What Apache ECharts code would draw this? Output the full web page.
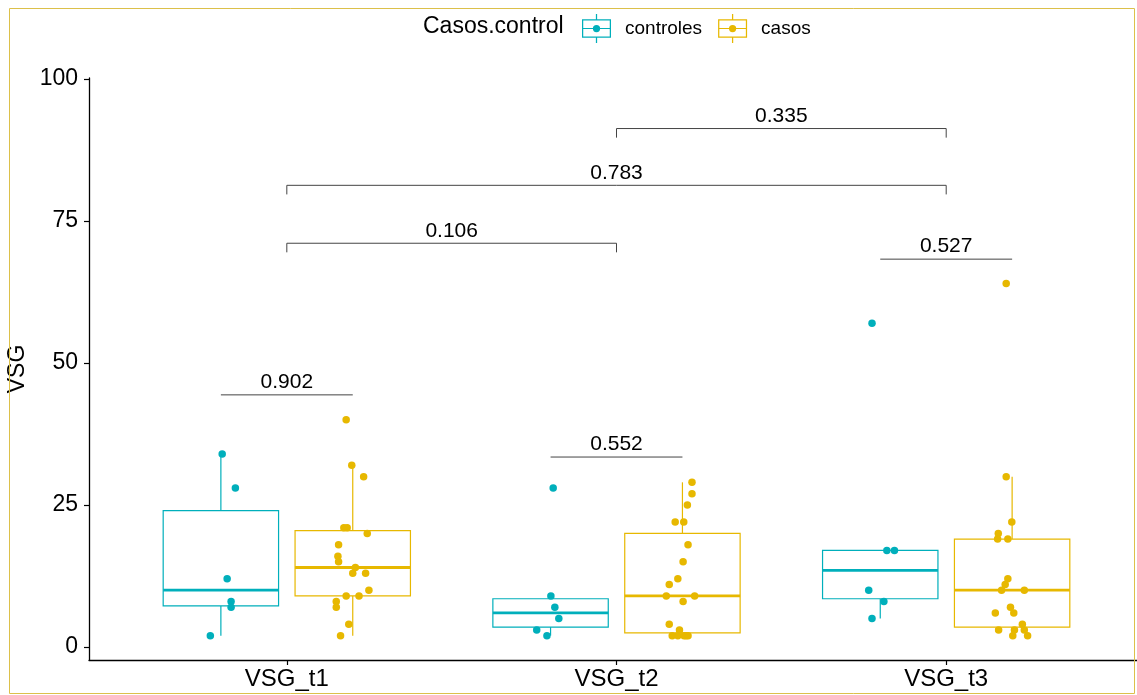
<!DOCTYPE html>
<html><head><meta charset="utf-8">
<script src="https://cdn.jsdelivr.net/npm/echarts@6/dist/echarts.min.js"></script>
<style>html,body{margin:0;padding:0;background:#fff}#c{width:1137px;height:695px}</style>
</head><body><div id="c"></div>
<script>
// ---- data ----
const categories = ['VSG_t1', 'VSG_t2', 'VSG_t3'];
const groups = ['controles', 'casos'];
const groupColors = ['#00AFBB', '#E7B800'];
const yTicks = [0, 25, 50, 75, 100];
const legendTitle = 'Casos.control';
const yName = 'VSG';

const controlesT1 = [34, 28, 12, 8, 7, 2];
const controlesT2 = [28, 9, 7, 5, 3, 2];
const controlesT3 = [57, 17, 17, 10, 8, 5];
const casosT1 = [40, 32, 30, 21, 21, 20, 18, 16, 15, 14, 13, 13, 10, 9, 9, 8, 7, 4, 2];
const casosT2 = [29, 27, 25, 22, 22, 18, 15, 12, 11, 9, 9, 8, 4, 3, 2, 2, 2, 2, 2];
const casosT3 = [64, 30, 22, 20, 19, 19, 12, 11, 10, 10, 7, 6, 6, 4, 3, 3, 3, 2, 2];

// horizontal jitter of each point (category units)
const controlesT1Jitter = [0.004, 0.044, 0.019, 0.031, 0.031, -0.032];
const controlesT2Jitter = [0.008, 0.001, 0.013, 0.025, -0.042, -0.011];
const controlesT3Jitter = [-0.025, 0.020, 0.043, -0.035, 0.011, -0.025];
const casosT1Jitter = [-0.020, -0.003, 0.033, -0.027, -0.017, 0.044, -0.043, -0.045, -0.043, 0.008, 0.000, 0.039, 0.049, -0.020, 0.019, -0.050, -0.050, -0.012, -0.037];
const casosT2Jitter = [0.029, 0.029, 0.015, -0.022, 0.004, 0.017, 0.002, -0.014, -0.040, -0.049, 0.037, 0.002, -0.040, -0.009, -0.031, -0.014, 0.011, 0.017, 0.005];
const casosT3Jitter = [-0.018, -0.018, -0.001, -0.042, -0.044, -0.013, -0.013, -0.021, -0.032, 0.037, -0.005, -0.051, 0.005, 0.031, -0.041, 0.007, 0.037, 0.002, 0.047];

// p-value brackets
const bracketFrom = [0.8, 1.8, 2.8, 1, 1, 2];
const bracketTo = [1.2, 2.2, 3.2, 2, 3, 3];
const bracketY = [44.4, 33.45, 68.3, 71.1, 81.3, 91.3];
const bracketLeg = [0, 0, 0, 1.6, 1.6, 1.6];
const bracketLabels = ['0.902', '0.552', '0.527', '0.106', '0.783', '0.335'];

const dodge = 0.2;      // offset of each group from category centre
const boxWidth = 0.35;

// ---- helpers ----
function quant(s, p) {
  const h = (s.length - 1) * p, lo = Math.floor(h);
  const hi = Math.min(lo + 1, s.length - 1);
  return s[lo] + (h - lo) * (s[hi] - s[lo]);
}
function boxStats(vals) {
  const s = vals.slice().sort((a, b) => a - b);
  const q1 = quant(s, 0.25), med = quant(s, 0.5), q3 = quant(s, 0.75);
  const iqr = q3 - q1;
  const lo = s.find(v => v >= q1 - 1.5 * iqr);
  const hi = s.slice().reverse().find(v => v <= q3 + 1.5 * iqr);
  return [lo, q1, med, q3, hi];
}

const groupData = [
  [[controlesT1, controlesT1Jitter], [controlesT2, controlesT2Jitter], [controlesT3, controlesT3Jitter]],
  [[casosT1, casosT1Jitter], [casosT2, casosT2Jitter], [casosT3, casosT3Jitter]]
];

const FONT = '"Liberation Sans", Arial, sans-serif';
const series = [];

groups.forEach((g, gi) => {
  const off = gi === 0 ? -dodge : dodge;
  const boxData = groupData[gi].map((d, ci) => [ci + 1 + off].concat(boxStats(d[0])));
  series.push({
    name: g,
    type: 'custom',
    itemStyle: { color: groupColors[gi] },
    encode: { x: 0, y: [1, 2, 3, 4, 5] },
    data: boxData,
    z: 2,
    renderItem: function (params, api) {
      const x = api.value(0);
      const pMin = api.coord([x, api.value(1)]);
      const pQ1 = api.coord([x, api.value(2)]);
      const pMed = api.coord([x, api.value(3)]);
      const pQ3 = api.coord([x, api.value(4)]);
      const pMax = api.coord([x, api.value(5)]);
      const half = api.size([boxWidth, 0])[0] / 2;
      const col = groupColors[gi];
      const ls = { stroke: col, lineWidth: 1.2, fill: null };
      return {
        type: 'group',
        children: [
          { type: 'line', shape: { x1: pMed[0], y1: pQ3[1], x2: pMed[0], y2: pMax[1] }, style: ls },
          { type: 'line', shape: { x1: pMed[0], y1: pQ1[1], x2: pMed[0], y2: pMin[1] }, style: ls },
          { type: 'rect', shape: { x: pMed[0] - half, y: pQ3[1], width: 2 * half, height: pQ1[1] - pQ3[1] }, style: { stroke: col, lineWidth: 1.2, fill: '#fff' } },
          { type: 'line', shape: { x1: pMed[0] - half, y1: pMed[1], x2: pMed[0] + half, y2: pMed[1] }, style: { stroke: col, lineWidth: 2.8 } }
        ]
      };
    }
  });
  const pts = [];
  groupData[gi].forEach((d, ci) => {
    d[0].forEach((v, k) => pts.push([ci + 1 + off + d[1][k], v]));
  });
  series.push({
    name: g,
    type: 'scatter',
    symbol: 'circle',
    symbolSize: 7.5,
    itemStyle: { color: groupColors[gi], opacity: 1 },
    data: pts,
    z: 3,
    silent: true
  });
});

series.push({
  name: 'brackets',
  type: 'custom',
  z: 4,
  encode: { x: [0, 1], y: 2 },
  data: bracketLabels.map((l, i) => [bracketFrom[i], bracketTo[i], bracketY[i], bracketLeg[i]]),
  renderItem: function (params, api) {
    const i = params.dataIndex;
    const a = api.coord([api.value(0), api.value(2)]);
    const b = api.coord([api.value(1), api.value(2)]);
    const leg = api.value(3);
    const aL = api.coord([api.value(0), api.value(2) - leg]);
    const bL = api.coord([api.value(1), api.value(2) - leg]);
    return {
      type: 'group',
      children: [
        { type: 'polyline', shape: { points: [[aL[0], aL[1]], [a[0], a[1]], [b[0], b[1]], [bL[0], bL[1]]] }, style: { stroke: '#444', lineWidth: 1, fill: null } },
        { type: 'text', x: (a[0] + b[0]) / 2, y: a[1] - 2, style: { text: bracketLabels[i], fill: '#000', font: '21px ' + FONT, textAlign: 'center', textVerticalAlign: 'bottom' } }
      ]
    };
  }
});

const legendIcon = 'path://M0,5H28V23H0Z M1.2,6.2V21.8H26.8V6.2Z M1.2,13.4H26.8V14.6H1.2Z M13.4,0H14.6V5H13.4Z M13.4,23H14.6V28H13.4Z M10.5,14A3.5,3.5,0,1,1,17.5,14A3.5,3.5,0,1,1,10.5,14Z';

const chart = echarts.init(document.getElementById('c'), null, { renderer: 'canvas' });
chart.setOption({
  animation: false,
  backgroundColor: '#fff',
  textStyle: { fontFamily: FONT },
  title: {
    text: legendTitle, left: 418, top: 10,
    textStyle: { fontSize: 23, fontWeight: 'normal', color: '#000', fontFamily: FONT }
  },
  legend: {
    data: groups.map((g, i) => ({ name: g, icon: legendIcon, itemStyle: { color: groupColors[i], borderWidth: 0 } })),
    left: 577, top: 9,
    itemWidth: 29, itemHeight: 29, itemGap: 16,
    textStyle: { fontSize: 19, color: '#000', fontFamily: FONT, padding: [0, 0, 0, 9] },
    selectedMode: false
  },
  graphic: [{
    type: 'rect', shape: { x: 9.5, y: 8.5, width: 1125, height: 685 },
    style: { fill: null, stroke: '#DCC04A', lineWidth: 1 }, silent: true, z: 10
  }],
  grid: { left: 89, top: 78, width: 1055, bottom: 35, containLabel: false, outerBoundsMode: 'none' },
  xAxis: {
    type: 'value', min: 0.4, max: 3.6,
    splitLine: { show: false },
    axisLine: { show: true, onZero: false, lineStyle: { color: '#000', width: 1.3 } },
    axisTick: { show: true, customValues: [1, 2, 3], length: 5, lineStyle: { color: '#000', width: 1.2 } },
    axisLabel: { customValues: [1, 2, 3], formatter: v => categories[Math.round(v) - 1] || '', fontSize: 24, color: '#000', margin: 7, fontFamily: FONT }
  },
  yAxis: {
    type: 'value', min: -2.29, max: 100.2,
    name: yName, nameLocation: 'middle', nameRotate: 90, nameGap: 59,
    nameTextStyle: { fontSize: 23, color: '#000', fontFamily: FONT },
    splitLine: { show: false },
    axisLine: { show: true, onZero: false, lineStyle: { color: '#000', width: 1.3 } },
    axisTick: { show: true, customValues: yTicks, length: 5, lineStyle: { color: '#000', width: 1.2 } },
    axisLabel: { customValues: yTicks, fontSize: 23, color: '#000', margin: 11, fontFamily: FONT }
  },
  series: series
});
</script>
</body></html>
